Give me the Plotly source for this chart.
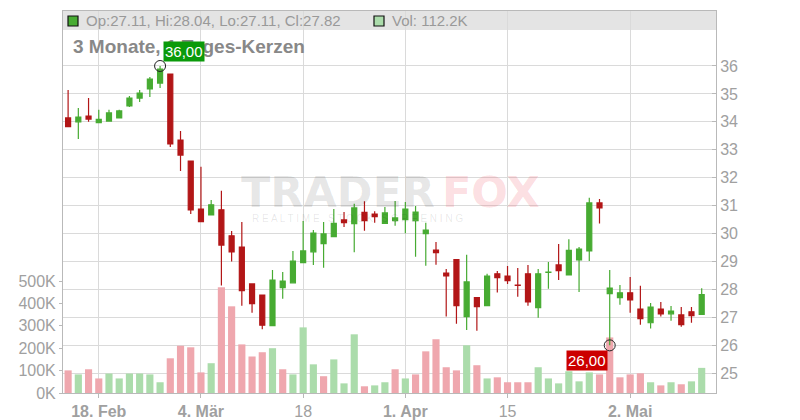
import plotly.graph_objects as go

# ---------------- data ----------------
opens = [34.14, 34.00, 34.21, 33.97, 34.03, 34.14, 34.57, 34.85, 35.18, 35.39,
         35.71, 33.35, 32.60, 30.88, 30.67, 30.85, 29.92, 29.52, 28.20, 27.80,
         26.71, 28.07, 28.24, 28.96, 29.35, 29.64, 29.89, 30.49, 30.36, 30.76,
         30.70, 30.37, 30.46, 30.50, 30.46, 30.00, 29.41, 28.59, 29.07, 27.03,
         27.71, 27.42, 28.56, 28.48, 28.16, 28.56, 27.35, 28.61, 28.88, 28.52,
         29.06, 29.38, 31.10, 27.85, 27.71, 27.88, 27.30, 26.81, 27.30, 27.13,
         27.09, 27.20, 27.11]
highs = [35.14, 34.50, 34.85, 34.43, 34.43, 34.43, 34.93, 35.14, 35.61, 36.00,
         35.71, 33.67, 32.60, 32.39, 31.20, 31.53, 30.09, 30.42, 28.20, 27.80,
         28.70, 28.63, 29.38, 30.45, 30.13, 30.42, 30.88, 30.77, 31.07, 31.16,
         30.80, 30.95, 31.17, 31.13, 30.99, 30.39, 29.70, 28.73, 29.07, 29.24,
         27.71, 28.56, 28.66, 28.84, 28.77, 28.88, 28.73, 28.98, 29.63, 29.80,
         29.52, 31.28, 31.24, 28.70, 28.16, 28.45, 28.13, 27.52, 27.55, 27.41,
         27.37, 27.37, 28.04]
lows = [33.83, 33.39, 34.00, 33.97, 34.03, 34.14, 34.53, 34.71, 34.89, 35.21,
        33.10, 32.24, 30.70, 30.43, 30.67, 28.14, 29.00, 27.42, 27.17, 26.58,
        26.71, 27.67, 28.24, 28.96, 28.88, 28.78, 29.89, 30.24, 29.33, 30.10,
        30.39, 30.37, 30.28, 30.01, 29.17, 28.85, 28.89, 27.03, 26.77, 26.55,
        26.52, 27.42, 27.89, 28.20, 27.74, 27.42, 26.99, 28.03, 28.34, 28.52,
        27.91, 29.02, 30.36, 26.00, 27.45, 27.17, 26.74, 26.60, 27.03, 26.88,
        26.67, 26.81, 27.11]
closes = [33.83, 34.17, 34.10, 34.09, 34.32, 34.39, 34.85, 35.03, 35.53, 35.89,
          33.21, 32.81, 30.85, 30.43, 31.03, 29.59, 29.35, 27.96, 27.49, 26.72,
          28.34, 28.30, 29.02, 29.38, 30.02, 29.99, 30.37, 30.39, 30.92, 30.46,
          30.61, 30.74, 30.56, 30.88, 30.77, 30.13, 29.32, 28.49, 27.42, 28.27,
          27.39, 28.48, 28.42, 28.32, 28.15, 27.56, 28.56, 28.62, 28.67, 29.40,
          29.45, 31.10, 30.92, 28.05, 27.88, 27.63, 26.96, 27.37, 27.13, 27.23,
          26.74, 27.06, 27.82]
volumes_k = [101, 83, 106, 65, 87, 65, 87, 87, 83, 48,
             155, 211, 204, 92, 133, 472, 387, 217, 163, 182,
             200, 106, 83, 293, 128, 75, 150, 43, 262, 30,
             34, 48, 106, 65, 83, 186, 240, 115, 101, 213,
             124, 65, 70, 48, 48, 48, 115, 65, 43, 97,
             52, 92, 83, 248, 70, 83, 88, 48, 34, 48,
             39, 52, 112.2]

tick_idx = [3, 13, 23, 33, 43, 55]
tick_labels = ["<b>18. Feb</b>", "<b>4. Mär</b>", "18", "<b>1. Apr</b>", "15", "<b>2. Mai</b>"]
price_ticks = [25, 26, 27, 28, 29, 30, 31, 32, 33, 34, 35, 36]
vol_ticks = [0, 100000, 200000, 300000, 400000, 500000]
vol_tick_labels = ["0K", "100K", "200K", "300K", "400K", "500K"]

# ---------------- derived ----------------
n = len(opens)
idx = list(range(n))
volumes = [v * 1000 for v in volumes_k]

UP = "#47ab32"
DOWN = "#b21617"
VUP = "#abdcab"
VDOWN = "#efa7ae"
vol_colors = []
for i in range(n):
    ref = closes[i - 1] if i > 0 else opens[i]
    vol_colors.append(VUP if closes[i] >= ref else VDOWN)

imax = max(idx, key=lambda i: highs[i])
imin = min(idx, key=lambda i: lows[i])

FONT = "Liberation Sans, Arial, sans-serif"
WMFONT = "DejaVu Sans, Liberation Sans, sans-serif"
L, R, T, B = 63, 84, 11, 27
W, H = 800, 420
PW, PH = W - L - R, H - T - B


def px(x):
    return (x - L) / PW


def py(y):
    return (H - B - y) / PH


fig = go.Figure()

fig.add_trace(go.Bar(x=idx, y=volumes, marker=dict(color=vol_colors, line=dict(width=0)),
                     width=0.7, yaxis="y", hoverinfo="skip", showlegend=False))

fig.add_trace(go.Candlestick(
    x=idx, open=opens, high=highs, low=lows, close=closes, yaxis="y2",
    increasing=dict(fillcolor=UP, line=dict(color=UP, width=1.2)),
    decreasing=dict(fillcolor=DOWN, line=dict(color=DOWN, width=1.2)),
    whiskerwidth=0, showlegend=False))

fig.add_trace(go.Scatter(x=[imax, imin], y=[highs[imax], lows[imin]], yaxis="y2", mode="markers",
                         marker=dict(symbol="circle-open", size=11, color="#222222", line=dict(width=1)),
                         showlegend=False, hoverinfo="skip"))

lo_p = 25 - (H - B - 373.3) / 27.94
hi_p = 36 + (66 - T) / 27.94
vol_top = PH / 22.4 * 100000

fig.update_layout(
    width=W, height=H, margin=dict(l=L, r=R, t=T, b=B, autoexpand=False),
    paper_bgcolor="white", plot_bgcolor="white",
    font=dict(family=FONT, color="#a0a0a0"),
    bargap=0.3,
    xaxis=dict(range=[-0.5, n + 0.4], tickvals=tick_idx, ticktext=tick_labels,
               showgrid=True, gridcolor="#dadada", gridwidth=1, automargin=False,
               showline=True, linecolor="#b9b9b9", linewidth=1, mirror=True,
               ticks="outside", ticklen=4, tickcolor="#b9b9b9",
               tickfont=dict(size=16, color="#a0a0a0", family=FONT),
               rangeslider=dict(visible=False), zeroline=False, fixedrange=True),
    yaxis=dict(range=[0, vol_top], tickvals=vol_ticks, ticktext=vol_tick_labels,
               showgrid=False, zeroline=False, showline=True, linecolor="#b9b9b9", linewidth=1,
               ticks="outside", ticklen=3, tickcolor="#b9b9b9", automargin=False,
               tickfont=dict(size=16, color="#a0a0a0", family=FONT)),
    yaxis2=dict(range=[lo_p, hi_p], overlaying="y", side="right", tickvals=price_ticks,
                ticktext=[str(t) for t in price_ticks], automargin=False,
                showgrid=True, gridcolor="#dadada", gridwidth=1, zeroline=False,
                showline=True, linecolor="#b9b9b9", linewidth=1,
                ticks="inside", ticklen=4, tickcolor="#b9b9b9",
                tickfont=dict(size=16, color="#a0a0a0", family=FONT)),
)

shapes = [
    dict(type="rect", xref="paper", yref="paper", x0=0, x1=1, y0=py(30), y1=1,
         fillcolor="#e4e4e4", line=dict(width=0), layer="below"),
    dict(type="rect", xref="paper", yref="paper", x0=px(68), x1=px(78), y0=py(26), y1=py(16),
         fillcolor=UP, line=dict(color="#111111", width=1.2), layer="above"),
    dict(type="rect", xref="paper", yref="paper", x0=px(374), x1=px(384), y0=py(26), y1=py(16),
         fillcolor=VUP, line=dict(color="#111111", width=1.2), layer="above"),
]
fig.update_layout(shapes=shapes)


def de(v):
    return f"{v:.2f}".replace(".", ",")


last = n - 1
ann = [
    dict(xref="paper", yref="paper", x=px(239), y=py(192), xanchor="left", yanchor="middle",
         text="<b>TRADER</b>", showarrow=False,
         font=dict(size=43, color="rgba(0,0,0,0.10)", family=WMFONT)),
    dict(xref="paper", yref="paper", x=px(440), y=py(192), xanchor="left", yanchor="middle",
         text="<b>FOX</b>", showarrow=False,
         font=dict(size=43, color="rgba(240,60,80,0.18)", family=WMFONT)),
    dict(xref="paper", yref="paper", x=px(250), y=py(218), xanchor="left", yanchor="middle",
         text="R E A L T I M E   S T O C K   S C R E E N I N G", showarrow=False,
         font=dict(size=10, color="rgba(0,0,0,0.10)", family=FONT)),
    dict(xref="paper", yref="paper", x=px(84), y=py(21), xanchor="left", yanchor="middle",
         text=f"Op:{opens[last]:.2f}, Hi:{highs[last]:.2f}, Lo:{lows[last]:.2f}, Cl:{closes[last]:.2f}",
         showarrow=False, font=dict(size=15, color="#999999", family=FONT)),
    dict(xref="paper", yref="paper", x=px(390), y=py(21), xanchor="left", yanchor="middle",
         text=f"Vol: {volumes_k[last]:.1f}K", showarrow=False,
         font=dict(size=15, color="#999999", family=FONT)),
    dict(xref="paper", yref="paper", x=px(71), y=py(47), xanchor="left", yanchor="middle",
         text="<b>3 Monate, 1 Tages-Kerzen</b>", showarrow=False,
         font=dict(size=19, color="#888888", family=FONT)),
    dict(xref="x", yref="y2", x=imax, y=highs[imax], xanchor="left", yanchor="bottom",
         xshift=3, yshift=4, text=de(highs[imax]), showarrow=False, bgcolor="#0a9a0a",
         borderpad=1, font=dict(size=15, color="white", family=FONT)),
    dict(xref="x", yref="y2", x=imin, y=lows[imin], xanchor="right", yanchor="top",
         xshift=-2, yshift=-5, text=de(lows[imin]), showarrow=False, bgcolor="#cc0000",
         borderpad=1, font=dict(size=15, color="white", family=FONT)),
]
fig.update_layout(annotations=ann)

fig.write_html("out.html", config={"displayModeBar": False},
               post_script="document.body.style.margin='0';")
